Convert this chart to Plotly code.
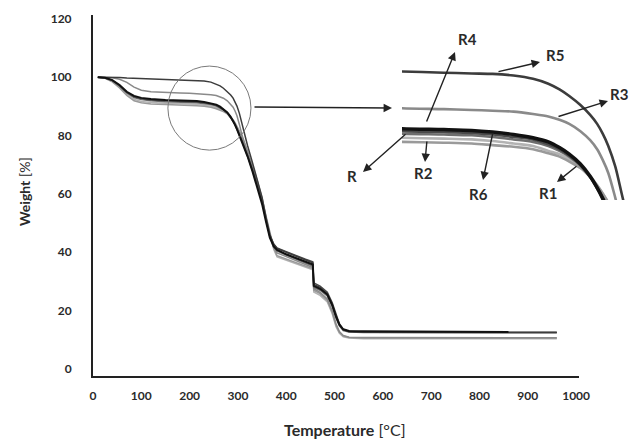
import plotly.graph_objects as go

# ---------------- data ----------------
temp = [10, 25, 40, 55, 70, 85, 100, 120, 150, 180, 200, 215, 230, 244, 255, 263, 270, 278,
        285, 290, 294, 298, 303, 309, 320, 330, 340, 350, 358, 366, 374, 381, 400, 420, 440,
        455, 457, 470, 485, 495, 503, 510, 518, 530, 560, 650, 750, 860, 960]

w_R = [100, 99.8, 99.0, 97.3, 95.0, 93.6, 92.9, 92.5, 92.2, 92.1, 92.0, 91.8, 91.5, 91.1, 90.6,
       89.9, 89.1, 87.9, 86.4, 85.0, 83.7, 82.2, 80.2, 77.6, 72.8, 67.8, 62.5, 56.5, 50.5, 45.0,
       42.0, 40.8, 39.3, 38.0, 36.8, 35.8, 28.5, 27.5, 25.5, 22.0, 18.0, 15.2, 13.6, 13.0, 12.9,
       12.8, 12.8, 12.7, None]
w_R1 = [100, 99.6, 98.4, 96.3, 93.7, 91.9, 91.2, 90.8, 90.6, 90.5, 90.4, 90.2, 90.0, 89.7, 89.2,
        88.8, 88.2, 87.4, 86.3, 85.3, 84.3, 83.2, 81.5, 79.3, 74.5, 69.8, 64.5, 58.5, 52.5, 46.5,
        41.5, 38.8, 37.6, 36.4, 35.2, 34.3, 27.0, 25.8, 23.5, 19.5, 15.0, 12.6, 11.3, 10.8, 10.6,
        10.6, 10.6, 10.6, 10.6]
w_R2 = [100, 99.7, 98.8, 96.9, 94.6, 93.0, 92.3, 91.9, 91.6, 91.5, 91.4, 91.2, 90.9, 90.6, 90.1,
        89.5, 88.8, 87.7, 86.3, 85.0, 83.8, 82.5, 80.6, 78.3, 73.5, 68.8, 63.5, 57.5, 51.5, 46.0,
        42.5, 40.5, 39.0, 37.7, 36.3, 35.3, 28.0, 27.0, 25.0, 21.5, 17.5, 14.8, 13.2, 12.7, 12.5,
        12.4, 12.4, 12.4, 12.4]
w_R3 = [100, 100, 99.8, 99.3, 98.2, 96.6, 95.5, 95.0, 94.7, 94.6, 94.5, 94.4, 94.3, 94.0, 93.7,
        93.3, 92.8, 91.9, 90.8, 89.7, 88.4, 86.8, 83.8, 79.8, 74.5, 69.2, 63.8, 57.8, 51.5, 45.5,
        41.8, 39.8, 38.5, 37.2, 35.8, 34.8, 27.5, 26.3, 24.0, 20.0, 15.5, 12.8, 11.5, 10.9, 10.8,
        10.7, 10.7, 10.7, 10.7]
w_R4 = [100, 99.8, 98.9, 97.1, 94.8, 93.3, 92.6, 92.2, 91.9, 91.8, 91.7, 91.5, 91.2, 90.9, 90.3,
        89.7, 88.9, 87.8, 86.3, 84.9, 83.6, 82.1, 80.2, 77.8, 73.0, 68.3, 63.0, 57.0, 51.0, 45.5,
        42.8, 41.5, 40.2, 38.8, 37.6, 36.7, 29.5, 28.4, 26.3, 22.8, 18.6, 15.5, 13.6, 12.9, 12.7,
        12.6, 12.6, 12.6, 12.6]
w_R5 = [100, 100, 100.1, 99.9, 99.7, 99.6, 99.5, 99.4, 99.2, 99.05, 98.95, 98.9, 98.7, 98.3, 97.7,
        97.0, 96.2, 95.1, 93.9, 92.8, 91.6, 90.1, 87.6, 83.3, 76.5, 70.8, 65.0, 58.8, 52.0, 46.0,
        42.8, 41.3, 40.0, 38.7, 37.4, 36.4, 29.0, 28.0, 25.8, 22.3, 18.2, 15.3, 13.5, 12.8, 12.6,
        12.5, 12.5, 12.5, 12.5]
w_R6 = [100, 99.7, 98.6, 96.6, 94.1, 92.4, 91.7, 91.3, 91.1, 91.0, 90.9, 90.7, 90.4, 90.1, 89.5,
        89.1, 88.5, 87.6, 86.4, 85.3, 84.3, 83.1, 81.3, 79.0, 74.2, 69.5, 64.2, 58.2, 52.0, 46.0,
        41.0, 38.4, 37.2, 36.0, 34.9, 34.0, 26.4, 25.2, 23.0, 19.0, 14.5, 12.2, 11.0, 10.6, 10.4,
        10.4, 10.4, 10.4, 10.4]

series_names = ["R6", "R1", "R3", "R2", "R4", "R5", "R"]
series_values = [w_R6, w_R1, w_R3, w_R2, w_R4, w_R5, w_R]
series_colors = ["#b3b3b3", "#9a9a9a", "#8a8a8a", "#6e6e6e", "#4a4a4a", "#3c3c3c", "#111111"]

x_ticks = [0, 100, 200, 300, 400, 500, 600, 700, 800, 900, 1000]
y_ticks = [0, 20, 40, 60, 80, 100, 120]

# ---------------- layout helpers ----------------
# The page body has an 8px default margin, so the figure is drawn 8px in and
# 8px down; size it so it fills the 638x439 window exactly.
PAGE_OFF = 8
W, H = 638 - PAGE_OFF, 439 - PAGE_OFF
PLOT_L, PLOT_R, PLOT_T, PLOT_B = 93, 628, 15, 376   # plot area in window pixels
ML, MT = PLOT_L - PAGE_OFF, PLOT_T - PAGE_OFF
MR, MB = 638 - PLOT_R, 439 - PLOT_B
PW, PH = PLOT_R - PLOT_L, PLOT_B - PLOT_T


def xp(px):
    return (px - PLOT_L) / PW


def yp(py):
    return (PLOT_B - py) / PH


fig = go.Figure()

for name, vals, col in zip(series_names, series_values, series_colors):
    fig.add_trace(go.Scatter(x=temp, y=vals, mode="lines", name=name,
                             line=dict(color=col, width=2 if name == "R" else 1.5),
                             xaxis="x", yaxis="y", showlegend=False, hoverinfo="skip"))
for name, vals, col in zip(series_names, series_values, series_colors):
    fig.add_trace(go.Scatter(x=temp, y=vals, mode="lines", name=name + " (zoom)",
                             line=dict(color=col, width=3.5 if name == "R" else 2.6,
                                       shape="spline", smoothing=0.8),
                             xaxis="x2", yaxis="y2", showlegend=False, hoverinfo="skip"))

tickfont = dict(family="Lato, Open Sans, sans-serif", size=12, color="#2a2a2a", weight="bold")

fig.update_layout(
    width=W, height=H, autosize=False,
    margin=dict(l=ML, r=MR, t=MT, b=MB, pad=0),
    paper_bgcolor="white", plot_bgcolor="white",
    xaxis=dict(domain=[0, xp(579)], range=[0, 1006], tickvals=x_ticks, automargin=False,
               showgrid=False, zeroline=False, showline=True, linecolor="#222", linewidth=2,
               ticks="", tickfont=tickfont, ticklabelstandoff=8, anchor="y"),
    yaxis=dict(domain=[0, 1], range=[-2.4, 121.3], tickvals=y_ticks, automargin=False,
               showgrid=False, zeroline=False, showline=True, linecolor="#222", linewidth=2,
               ticks="", tickfont=tickfont, ticklabelstandoff=17, anchor="x"),
    xaxis2=dict(domain=[xp(402), xp(625)], range=[150, 310], visible=False, anchor="y2",
                automargin=False),
    yaxis2=dict(domain=[yp(200), yp(60)], range=[83.5, 100.6], visible=False, anchor="x2",
                automargin=False),
)

# magnifier circle on main axes
fig.add_shape(type="circle", xref="x", yref="y", x0=155, x1=327, y0=75.0, y1=103.8,
              line=dict(color="#7a7a7a", width=1))

# arrows: (tail_x, tail_y, head_x, head_y) in window pixels
arrows = [(253, 107, 392, 108),
          (497, 72, 540, 62),
          (557, 117, 608, 101),
          (426, 123, 455, 52),
          (427, 140, 425, 162),
          (407, 133, 363, 172),
          (493, 132, 483, 180),
          (578, 165, 557, 182)]
for tx, ty, hx, hy in arrows:
    fig.add_annotation(x=xp(hx), y=yp(hy), xref="paper", yref="paper",
                       ax=tx - hx, ay=ty - hy, axref="pixel", ayref="pixel",
                       text="", showarrow=True, arrowhead=2, arrowsize=1.2,
                       arrowwidth=1.4, arrowcolor="#222", standoff=0, startstandoff=0)

labels = [("R4", 467, 39), ("R5", 555, 55), ("R3", 619, 94), ("R", 352, 176),
          ("R2", 423, 173), ("R6", 478, 194), ("R1", 548, 193)]
for txt, lx, ly in labels:
    fig.add_annotation(x=xp(lx), y=yp(ly), xref="paper", yref="paper", text="<b>%s</b>" % txt,
                       showarrow=False, xanchor="center", yanchor="middle",
                       font=dict(family="Lato, Open Sans, sans-serif", size=15, color="#2a2a2a"))

# axis titles
fig.add_annotation(x=xp(345), y=yp(429), xref="paper", yref="paper",
                   text="<b>Temperature</b> [°C]", showarrow=False,
                   xanchor="center", yanchor="middle",
                   font=dict(family="Lato, Open Sans, sans-serif", size=16, color="#2a2a2a"))
fig.add_annotation(x=xp(24), y=yp(192), xref="paper", yref="paper",
                   text="<b>Weight</b> [%]", showarrow=False, textangle=-90,
                   xanchor="center", yanchor="middle",
                   font=dict(family="Lato, Open Sans, sans-serif", size=14, color="#2a2a2a"))

fig.write_html("out.html")
